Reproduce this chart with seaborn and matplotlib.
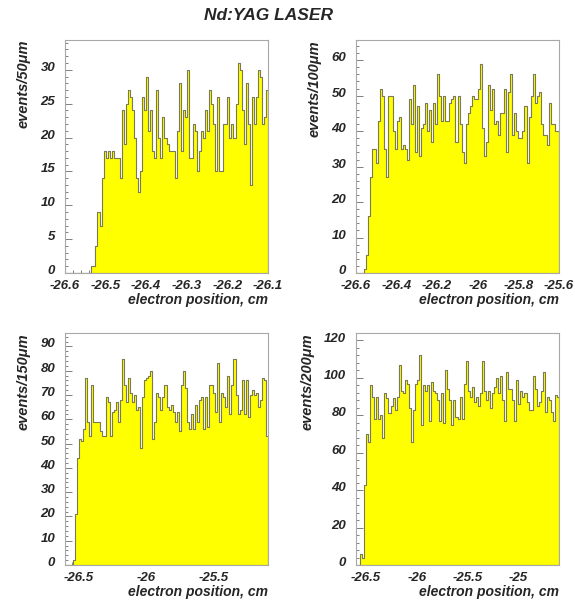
import numpy as np
import pandas as pd
import matplotlib
matplotlib.use('Agg')
import matplotlib.pyplot as plt
import matplotlib.transforms as mtransforms
import seaborn as sns
from matplotlib.ticker import MultipleLocator, AutoMinorLocator, FuncFormatter

# counts per bin (100 bins each)
counts_50um = [0] * 13 + [
    1, 1, 4, 9, 7, 14, 18, 17, 18, 17,
    18, 17, 17, 17, 14, 24, 19, 25, 27, 26,
    24, 20, 14, 12, 15, 26, 24, 29, 21, 24,
    18, 17, 27, 20,
    17, 23, 20, 19, 18, 18, 18, 14, 21, 28,
    18, 24, 23, 30, 17, 17, 22, 21, 15, 18,
    21, 20, 24, 21, 27, 25, 22, 15, 26, 15,
    15, 22, 22, 26, 20, 22, 20, 25, 31, 30,
    24, 19, 28, 22, 13, 26, 22, 26, 30, 29,
    22, 23, 27]

counts_100um = [0, 0, 0, 0, 1,
    5, 16, 27, 35, 35, 31, 43, 52, 50, 35,
    27, 50, 50, 40, 35, 43, 44, 35, 36, 35,
    32, 49, 42, 53, 34, 47, 33, 41, 42, 48,
    40, 46, 37, 48, 42, 56, 50, 43, 50, 43,
    43, 48, 49,
    50, 37, 50, 42, 34, 31, 42, 45, 47, 50,
    49, 49, 52, 59, 41, 33, 37, 53, 46, 52,
    42, 43, 39, 45, 45, 52, 34, 51, 56, 39,
    45, 40, 38, 38, 40, 47, 31, 44, 50, 56,
    48, 50, 51, 42, 39, 39, 36, 48, 42, 42,
    40, 40]

counts_150um = [0, 0, 0, 0,
    2, 21, 44, 52, 51, 56, 77, 59, 53, 74,
    59, 59, 59, 55, 53, 53, 69, 67, 53, 63,
    64, 67, 59, 68, 85, 74, 67, 77, 71, 67,
    70, 64, 65, 48, 69, 76, 77, 78, 80, 52,
    59, 71, 69,
    64, 69, 74, 65, 64, 66, 63, 59, 63, 55,
    74, 80, 73, 59, 56, 62, 56, 66, 59, 68,
    69, 56, 69, 57, 74, 74, 71, 63, 83, 59,
    71, 69, 65, 78, 62, 74, 85, 70, 62, 64,
    76, 62, 76, 61, 70, 72, 70, 71, 65, 68,
    77, 76, 53]

counts_200um = [0, 0, 6, 4,
    43, 70, 66, 96, 90, 78, 90, 78, 80, 68,
    92, 89, 81, 85, 89, 83, 90, 107, 93, 92,
    99, 97, 84, 66, 83, 97, 99, 112, 75, 96,
    93, 96, 77, 98, 93, 92, 88, 77, 92, 76,
    104, 94, 88, 75, 88,
    79, 78, 90, 78, 97, 109, 93, 90, 95, 87,
    90, 85, 92, 109, 93, 88, 93, 84, 92, 95,
    100, 92, 101, 88, 77, 103, 94, 94, 88, 77,
    99, 86, 93, 90, 92, 87, 83, 83, 101, 94,
    85, 87, 93, 103, 82, 90, 88, 82, 77, 91,
    90]

ylabels = ['events/50\u03bcm', 'events/100\u03bcm', 'events/150\u03bcm', 'events/200\u03bcm']
x_ranges = [(-26.6, -26.1), (-26.6, -25.6), (-26.6, -25.1), (-26.6, -24.6)]
y_tops = [34.4, 65.7, 95.5, 124]
x_major = [0.1, 0.2, 0.5, 0.5]
x_minor_div = [5, 5, 10, 5]
y_major = [5, 10, 10, 20]
all_counts = [counts_50um, counts_100um, counts_150um, counts_200um]

sns.set_style('ticks')
plt.rcParams['font.family'] = ['Liberation Sans', 'DejaVu Sans']
plt.rcParams['axes.unicode_minus'] = False

fig = plt.figure(figsize=(5.75, 6.02), dpi=100)
W, H = 575.0, 602.0
boxes = [(65, 40, 268, 273), (356, 40, 559, 273),
         (65, 333, 268, 565), (356, 333, 559, 565)]

font = dict(fontweight='bold', fontstyle='italic')
fmt = FuncFormatter(lambda v, p: '%g' % round(v, 3))
# y tick labels sit a little above their ticks, as in the ROOT output
lift = mtransforms.ScaledTranslation(0, 2.5 / 72, fig.dpi_scale_trans)

for i in range(4):
    x0, y0, x1, y1 = boxes[i]
    ax = fig.add_axes([x0 / W, 1 - y1 / H, (x1 - x0) / W, (y1 - y0) / H])
    counts = np.array(all_counts[i], dtype=float)
    lo, hi = x_ranges[i]
    edges = np.linspace(lo, hi, len(counts) + 1)
    df = pd.DataFrame({'x': (edges[:-1] + edges[1:]) / 2, 'n': counts})
    sns.histplot(data=df, x='x', weights='n', bins=edges.tolist(), element='step',
                 fill=True, color='#ffff00', alpha=1, edgecolor='#7a7a55',
                 linewidth=0.8, ax=ax)
    ax.set_xlim(lo, hi)
    ax.set_ylim(0, y_tops[i])
    ax.xaxis.set_major_locator(MultipleLocator(x_major[i]))
    ax.xaxis.set_minor_locator(AutoMinorLocator(x_minor_div[i]))
    ax.yaxis.set_major_locator(MultipleLocator(y_major[i]))
    ax.yaxis.set_minor_locator(AutoMinorLocator(5))
    ax.xaxis.set_major_formatter(fmt)
    ax.yaxis.set_major_formatter(fmt)
    ax.tick_params(which='both', direction='in', color='#808080', width=0.7,
                   top=False, right=False)
    ax.tick_params(which='major', length=5)
    ax.tick_params(which='minor', length=2.5)
    ax.tick_params(axis='x', which='major', pad=5, labelsize=9.5)
    ax.tick_params(axis='y', which='major', pad=7, labelsize=9.5)
    for lab in ax.get_xticklabels() + ax.get_yticklabels():
        lab.set_fontweight('bold')
        lab.set_fontstyle('italic')
    for lab in ax.get_yticklabels():
        lab.set_transform(lab.get_transform() + lift)
    for sp in ax.spines.values():
        sp.set_visible(True)
        sp.set_color('#a8a8a8')
        sp.set_linewidth(0.8)
    ax.set_xlabel('electron position, cm', loc='right', fontsize=10, labelpad=1, **font)
    ax.set_ylabel(ylabels[i], loc='top', fontsize=10.5, labelpad=7, **font)

fig.text(268 / W, 1 - 15 / H, 'Nd:YAG LASER', ha='center', va='center',
         fontsize=12.5, **font)

fig.savefig('out.png', dpi=100)
